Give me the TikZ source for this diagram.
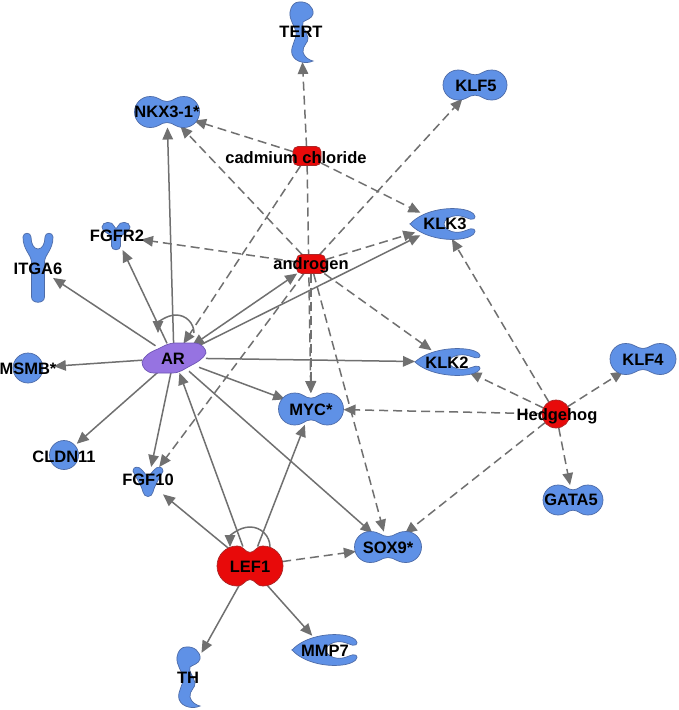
\documentclass[tikz,border=0pt]{standalone}
\usepackage{fontspec}
\setmainfont{Liberation Sans}
\usetikzlibrary{arrows.meta,shapes.geometric,calc}
\definecolor{nblue}{RGB}{95,145,230}
\definecolor{nblueb}{RGB}{78,108,168}
\definecolor{nred}{RGB}{232,10,10}
\definecolor{nredb}{RGB}{170,40,40}
\definecolor{npurple}{RGB}{150,115,225}
\definecolor{npurpleb}{RGB}{110,85,180}
\definecolor{egray}{RGB}{112,112,112}
\newcommand\dumbb[5]{%
\pgfmathsetmacro\dbR{#4/2}%
\pgfmathsetmacro\dbC{#3/2-#4/2}%
\pgfmathsetmacro\dbN{#4*0.34}%
\path[#5,shift={(#1,#2)}] (0,-\dbN) .. controls (0.4*\dbC,-\dbN) and (0.45*\dbC,-\dbR) .. (\dbC,-\dbR) arc[start angle=-90,end angle=90,radius=\dbR] .. controls (0.45*\dbC,\dbR) and (0.4*\dbC,\dbN) .. (0,\dbN) .. controls (-0.4*\dbC,\dbN) and (-0.45*\dbC,\dbR) .. (-\dbC,\dbR) arc[start angle=90,end angle=270,radius=\dbR] .. controls (-0.45*\dbC,-\dbR) and (-0.4*\dbC,-\dbN) .. cycle;}
\newcommand\pept[4]{%
\path[bsh,shift={(#1,#2)},xscale=#3/64,yscale=#4/30] (-32,0) .. controls (-20,-13) and (4,-17) .. (20,-14) .. controls (30,-12) and (33,-7) .. (30,-5) .. controls (26,-3) and (22,-8) .. (14,-8) .. controls (6,-8) and (1,-4) .. (1,0) .. controls (1,4) and (6,8) .. (14,8) .. controls (22,8) and (26,3) .. (30,5) .. controls (33,7) and (30,12) .. (20,14) .. controls (4,17) and (-20,13) .. cycle;}
\newcommand\enz[2]{%
\path[bsh,shift={(#1,#2)}] (-2,-30) .. controls (6,-31) and (13,-25) .. (12,-18) .. controls (11,-13) and (4,-12) .. (2,-10) .. controls (0,-6) and (6,0) .. (7,6) .. controls (8,10) and (1,14) .. (2,20) .. controls (3,25) and (8,28) .. (12,29) .. controls (6,32) and (-6,31) .. (-9,22) .. controls (-11,14) and (-4,8) .. (-5,0) .. controls (-6,-6) and (-12,-12) .. (-11,-20) .. controls (-10,-27) and (-6,-30) .. cycle;}
\begin{document}
\begin{tikzpicture}[x=1pt,y=-1pt,
  >={Triangle[length=12pt,width=10.5pt]},
  anc/.style 2 args={ellipse,inner sep=0pt,outer sep=0pt,minimum width=#1,minimum height=#2},
  ancr/.style 2 args={rectangle,inner sep=0pt,outer sep=0pt,minimum width=#1,minimum height=#2},
  lbl/.style={font=\fontsize{16.5}{18}\selectfont\bfseries,inner sep=0pt,text=black},
  sline/.style={draw=egray,line width=1.5pt,->},
  dline/.style={sline,dash pattern=on 9pt off 5pt},
  bsh/.style={fill=nblue,draw=nblueb,line width=0.7pt},
  rsh/.style={fill=nred,draw=nredb,line width=0.7pt},
  psh/.style={fill=npurple,draw=npurpleb,line width=0.7pt}]
\fill[white] (0,0) rectangle (678,710);
\useasboundingbox (0,0) rectangle (678,710);
% anchors
\node[ancr={26}{60}] (tert) at (301,32) {};
\node[anc={65}{31}] (nkx) at (167,112) {};
\node[anc={64}{30}] (klf5) at (475,85) {};
\node[ancr={28}{19}] (cad) at (307,156) {};
\node[anc={66}{31}] (klk3) at (443,224) {};
\node[ancr={50}{28}] (fgfr2) at (116,236) {};
\node[ancr={30}{70}] (itga6) at (38,268) {};
\node[ancr={29}{19}] (andr) at (311,264) {};
\node[anc={64}{30}] (ar) at (174,358) {};
\node[anc={52}{30}] (msmb) at (28,368) {};
\node[anc={66}{27}] (klk2) at (448,362) {};
\node[anc={66}{31}] (klf4) at (643,359) {};
\node[anc={65}{32}] (myc) at (311,409) {};
\node[anc={28}{28}] (hh) at (556,414) {};
\node[anc={34}{34}] (cldn11) at (64,455) {};
\node[ancr={30}{30}] (fgf10) at (148,482) {};
\node[anc={60}{30}] (gata5) at (573,500) {};
\node[anc={67}{31}] (sox9) at (388,547) {};
\node[anc={66}{40}] (lef) at (250,566) {};
\node[anc={66}{31}] (mmp7) at (325,650) {};
\node[ancr={27}{60}] (th) at (188,677) {};
% indirect
\draw[dline] (cad) -- (tert);
\draw[dline] (cad) -- (nkx);
\draw[dline] (cad) -- (klk3);
\draw[dline] (cad) -- (ar);
\draw[dline] (cad) -- (myc);
\draw[dline] (andr) -- (nkx);
\draw[dline] (andr) -- (fgfr2);
\draw[dline] (andr) -- (klf5);
\draw[dline] (andr) -- (klk3);
\draw[dline] (andr) -- (klk2);
\draw[dline] (andr) -- (myc);
\draw[dline] (andr) -- (sox9);
\draw[dline] (andr) -- (fgf10);
\draw[dline] (hh) -- (klk3);
\draw[dline] (hh) -- (klk2);
\draw[dline] (hh) -- (klf4);
\draw[dline] (hh) -- (gata5);
\draw[dline] (hh) -- (myc);
\draw[dline] (hh) -- (sox9);
\draw[dline] (lef) -- (sox9);
% direct
\draw[sline] (ar) -- (nkx);
\draw[sline] (ar) -- (itga6);
\draw[sline] (ar) -- (fgfr2);
\draw[sline] (ar) -- (msmb);
\draw[sline] (ar) -- (cldn11);
\draw[sline] (ar) -- (fgf10);
\draw[sline] (ar) -- (myc);
\draw[sline] (ar) -- (klk2);
\draw[sline] (ar) -- (klk3);
\draw[sline,<->] (ar) -- (andr);
\draw[sline] (ar) -- (sox9);
\draw[sline] (lef) -- (ar);
\draw[sline] (lef) -- (myc);
\draw[sline] (lef) -- (fgf10);
\draw[sline] (lef) -- (th);
\draw[sline] (lef) -- (mmp7);
\draw[sline] ([shift={(20,-25)}]ar.center) arc[start angle=0,end angle=-180,radius=18];
\draw[sline] ([shift={(20,-19)}]lef.center) arc[start angle=0,end angle=-180,radius=20];
% shapes
\enz{301}{32}
\enz{188}{677}
\dumbb{167}{112}{65}{31}{bsh}
\dumbb{475}{85}{64}{30}{bsh}
\dumbb{643}{359}{66}{31}{bsh}
\dumbb{311}{409}{65}{32}{bsh}
\dumbb{388}{547}{67}{31}{bsh}
\dumbb{573}{500}{60}{30}{bsh}
\dumbb{250}{566}{66}{40}{rsh}
\pept{443}{224}{66}{31}
\pept{448}{362}{66}{27}
\pept{325}{650}{66}{31}
\path[rsh,rounded corners=5pt] (293,146.5) rectangle (321,165.5);
\path[rsh,rounded corners=5pt] (296.5,254.5) rectangle (325.5,273.5);
\path[rsh] (hh.center) circle[radius=14];
\path[bsh] (msmb.center) circle[radius=15];
\path[bsh] (cldn11.center) circle[radius=14.5];
% ITGA6 (Y)
\path[bsh,shift={(38,268)}] (-15,-31) .. controls (-15,-36) and (-7,-36) .. (-7,-31) .. controls (-7,-24) and (-4,-19) .. (0,-19) .. controls (4,-19) and (7,-24) .. (7,-31) .. controls (7,-36) and (15,-36) .. (15,-31) .. controls (15,-18) and (7,-14) .. (6.5,-6) -- (6.5,29) .. controls (6.5,36) and (-6.5,36) .. (-6.5,29) -- (-6.5,-6) .. controls (-7,-14) and (-15,-18) .. cycle;
% FGFR2
\path[bsh,shift={(116,236)}] (-14,-9) .. controls (-14,-15) and (-3,-15) .. (-2,-10) .. controls (-1,-7) and (1,-7) .. (2,-10) .. controls (3,-15) and (14,-15) .. (14,-9) .. controls (14,-3) and (5,-3) .. (4.5,2) -- (4.5,10) .. controls (4.5,15) and (-4.5,15) .. (-4.5,10) -- (-4.5,2) .. controls (-5,-3) and (-14,-3) .. cycle;
% FGF10
\path[bsh,shift={(148,482)}] (-15,-11) .. controls (-15,-16) and (-9,-16) .. (-6,-12) -- (0,-5) -- (6,-12) .. controls (9,-16) and (15,-16) .. (15,-11) .. controls (12,-4) and (7,2) .. (5,10) .. controls (4,16) and (-4,16) .. (-5,10) .. controls (-7,2) and (-12,-4) .. cycle;
% AR
\path[psh,shift={(174,358)}] (-32,4) .. controls (-30,-2) and (-24,-6) .. (-16,-9) .. controls (-10,-12) and (-6,-15) .. (2,-15) -- (20,-15) .. controls (28,-15) and (32,-9) .. (32,-5) .. controls (30,0) and (24,4) .. (16,8) .. controls (10,11) and (6,15) .. (-2,15) -- (-20,15) .. controls (-28,15) and (-32,9) .. cycle;
% labels
\node[lbl] (tertL) at (301,32) {TERT};
\node[lbl] (nkxL) at (167,112) {NKX3-1*};
\node[lbl] (klf5L) at (476,86) {KLF5};
\node[lbl] (cadL) at (296,158) {cadmium chloride};
\node[lbl] (klk3L) at (445,224) {KLK3};
\node[lbl] (fgfr2L) at (117,236) {FGFR2};
\node[lbl] (itga6L) at (38,269) {ITGA6};
\node[lbl] (andrL) at (311,265) {androgen};
\node[lbl] (arL) at (173,359) {AR};
\node[lbl] (msmbL) at (28,369) {MSMB*};
\node[lbl] (klk2L) at (447,363) {KLK2};
\node[lbl] (klf4L) at (643,360) {KLF4};
\node[lbl] (mycL) at (311,410) {MYC*};
\node[lbl] (hhL) at (557,416) {Hedgehog};
\node[lbl] (cldn11L) at (64,457) {CLDN11};
\node[lbl] (fgf10L) at (148,480) {FGF10};
\node[lbl] (gata5L) at (571,500) {GATA5};
\node[lbl] (sox9L) at (388,548) {SOX9*};
\node[lbl] (lefL) at (250,567) {LEF1};
\node[lbl] (mmp7L) at (325,651) {MMP7};
\node[lbl] (thL) at (188,678) {TH};
\end{tikzpicture}
\end{document}
